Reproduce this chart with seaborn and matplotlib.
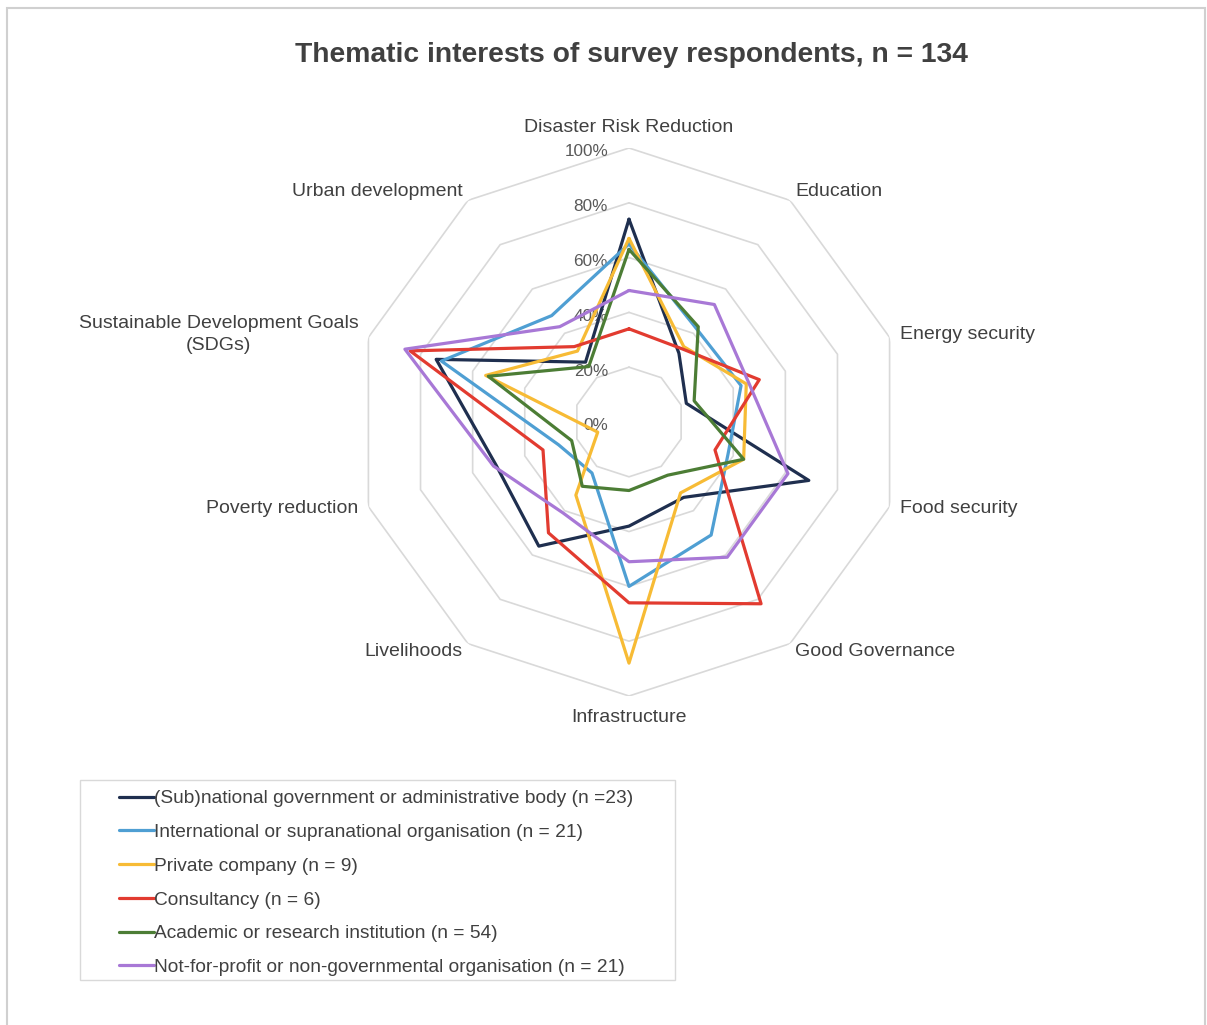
#!/usr/bin/env python3
"""Radar chart: thematic interests of survey respondents by organisation type."""

import numpy as np
import pandas as pd
import matplotlib.pyplot as plt
import matplotlib.patches as mpatches
import seaborn as sns

CATEGORIES = [
    "Disaster Risk Reduction",
    "Education",
    "Energy security",
    "Food security",
    "Good Governance",
    "Infrastructure",
    "Livelihoods",
    "Poverty reduction",
    "Sustainable Development Goals\n(SDGs)",
    "Urban development",
]

GROUPS = [
    "(Sub)national government or administrative body (n =23)",
    "International or supranational organisation (n = 21)",
    "Private company (n = 9)",
    "Consultancy (n = 6)",
    "Academic or research institution (n = 54)",
    "Not-for-profit or non-governmental organisation (n = 21)",
]

# percent of respondents, in category order
subnational = [74, 31, 22, 69, 34, 38, 56, 51, 74, 27]
international = [65, 42, 43, 38, 51, 60, 23, 27, 72, 48]
private = [67, 34, 45, 44, 32, 88, 33, 12, 55, 32]
consultancy = [34, 33, 50, 33, 82, 66, 50, 33, 84, 34]
academic = [63, 43, 25, 44, 24, 25, 29, 22, 54, 25]
nonprofit = [48, 53, 46, 61, 61, 51, 41, 52, 86, 43]

GROUP_COLORS = ["#1f2f4f", "#4f9fd3", "#f7bb35", "#e23b30", "#4c7d35", "#a878d6"]

TICKS = [0, 20, 40, 60, 80, 100]
TICK_LABELS = ["0%", "20%", "40%", "60%", "80%", "100%"]

# label offsets in pixels from the 100% vertex, with alignment
LABEL_POS = [
    (0, 21, "center"),
    (5, 9, "left"),
    (10, 3, "left"),
    (10, -2, "left"),
    (5, -8, "left"),
    (0, -22, "center"),
    (-5, -8, "right"),
    (-10, -2, "right"),
    (-10, 3, "right"),
    (-5, 9, "right"),
]

W, H = 1207, 1025


def build_frame():
    n = len(CATEGORIES)
    theta = np.linspace(0, 2 * np.pi, n, endpoint=False)
    rows = []
    for name, vals in zip(GROUPS, [subnational, international, private,
                                   consultancy, academic, nonprofit]):
        for i in range(n):
            rows.append({"group": name, "theta": theta[i], "value": vals[i]})
        # close the polygon
        rows.append({"group": name, "theta": 2 * np.pi, "value": vals[0]})
    return pd.DataFrame(rows), theta


def main() -> None:
    sns.set_theme(style="white")
    plt.rcParams["font.family"] = ["Liberation Sans", "DejaVu Sans"]

    df, theta = build_frame()

    fig = plt.figure(figsize=(W / 100, H / 100), dpi=100)
    cx, cy, rad = 629, 422, 274
    ax = fig.add_axes([(cx - rad) / W, (H - cy - rad) / H, 2 * rad / W, 2 * rad / H],
                      projection="polar")
    ax.set_theta_zero_location("N")
    ax.set_theta_direction(-1)
    ax.set_ylim(0, 100)

    # decagon rings
    ring_theta = np.append(theta, theta[0])
    for r in TICKS[1:]:
        ax.plot(ring_theta, [r] * len(ring_theta), color="#d9d9d9", lw=1.2, zorder=1)

    sns.lineplot(data=df, x="theta", y="value", hue="group", hue_order=GROUPS,
                 palette=GROUP_COLORS, sort=False, estimator=None, lw=2.3,
                 ax=ax, zorder=3)

    ax.grid(False)
    ax.spines["polar"].set_visible(False)
    ax.set_xticks([])
    ax.set_yticks([])
    ax.set_xlabel("")
    ax.set_ylabel("")

    for r, lab in zip(TICKS, TICK_LABELS):
        ax.annotate(lab, xy=(0, r), xytext=(-21, -4), textcoords="offset pixels",
                    ha="right", va="center", fontsize=12.3, color="#595959", zorder=2)

    for t, lab, (dx, dy, ha) in zip(theta, CATEGORIES, LABEL_POS):
        ax.annotate(lab, xy=(t, 100), xytext=(dx, dy), textcoords="offset pixels",
                    ha=ha, va="center", multialignment="center", linespacing=1.35,
                    fontsize=14, color="#404040", annotation_clip=False)

    handles, labels = ax.get_legend_handles_labels()
    ax.get_legend().remove()
    fig.legend(handles, labels, loc="upper left",
               bbox_to_anchor=(119 / W, 1 - 790 / H), frameon=False,
               fontsize=13.8, handlelength=1.8, handletextpad=0.05,
               labelspacing=0.85, borderpad=0, borderaxespad=0,
               labelcolor="#404040")
    fig.patches.append(mpatches.Rectangle((80 / W, 1 - 980 / H), 595 / W, 200 / H,
                                          transform=fig.transFigure, fill=False,
                                          edgecolor="#d9d9d9", lw=1))
    fig.patches.append(mpatches.Rectangle((7 / W, -0.05), 1198 / W, 1.05 - 8 / H,
                                          transform=fig.transFigure, fill=False,
                                          edgecolor="#d0d0d0", lw=1.5))

    fig.text(631 / W, 1 - 55 / H, "Thematic interests of survey respondents, n = 134",
             ha="center", va="center", fontsize=20.3, fontweight="bold", color="#404040")

    fig.savefig("out.png", dpi=100, facecolor="white")
    plt.close(fig)


if __name__ == "__main__":
    main()
